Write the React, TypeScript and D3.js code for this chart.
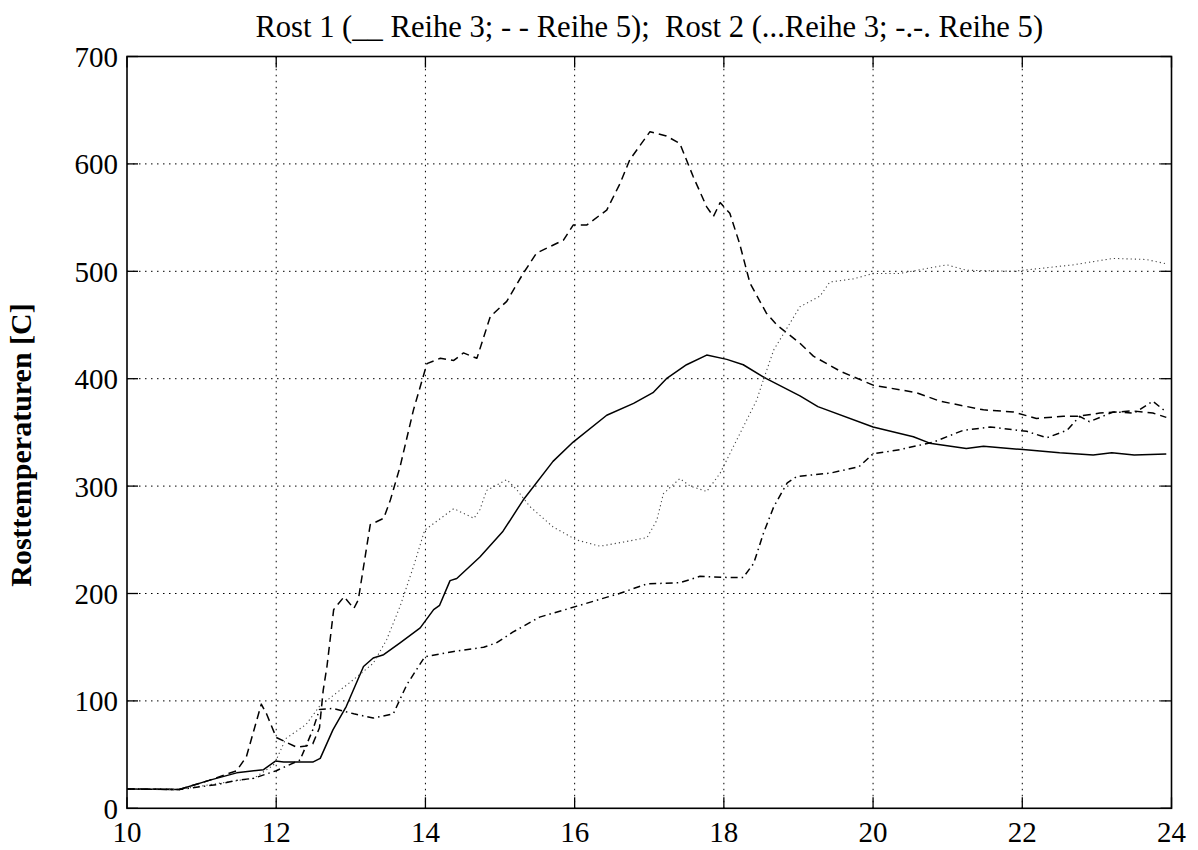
import React from "react";
import * as d3 from "d3";

const W = 1198;
const H = 850;

const titleText = "Rost 1 (__ Reihe 3; - - Reihe 5);  Rost 2 (...Reihe 3; -.-. Reihe 5)";
const yLabelText = "Rosttemperaturen [C]";
const xTicks = [10, 12, 14, 16, 18, 20, 22, 24];
const yTicks = [0, 100, 200, 300, 400, 500, 600, 700];

// Rost 1, Reihe 3 (solid)
const rost1Reihe3: [number, number][] = [
  [10, 18], [10.7, 17.5], [11.1, 26], [11.47, 33], [11.83, 36], [11.99, 44], [12.1, 43], [12.49, 43],
  [12.59, 46.5], [12.76, 73], [12.94, 95], [13.17, 132], [13.3, 140], [13.44, 143], [13.66, 154],
  [13.93, 168], [14.11, 185], [14.19, 189], [14.33, 212], [14.42, 214], [14.73, 234], [15.04, 258],
  [15.31, 287], [15.71, 323], [15.98, 341], [16.43, 366], [16.79, 377], [17.05, 387], [17.23, 400],
  [17.5, 413], [17.77, 422], [18.04, 418], [18.26, 413], [18.57, 400], [19.02, 384], [19.26, 374],
  [20.0, 355], [20.54, 346], [20.76, 340], [21.25, 335], [21.48, 337], [22.01, 334], [22.5, 331],
  [22.95, 329], [23.2, 331], [23.5, 329], [23.93, 330],
];

// Rost 1, Reihe 5 (dashed)
const rost1Reihe5: [number, number][] = [
  [10, 18], [10.7, 17.5], [11.1, 26], [11.47, 35], [11.6, 48], [11.8, 97], [11.87, 88], [12.0, 66],
  [12.27, 57], [12.4, 58], [12.49, 60], [12.58, 75], [12.63, 110], [12.68, 132], [12.77, 185],
  [12.91, 197], [13.04, 186], [13.1, 194], [13.26, 264], [13.44, 270], [13.53, 287], [13.66, 318],
  [13.84, 371], [14.02, 414], [14.2, 419], [14.38, 417], [14.51, 424], [14.69, 419], [14.87, 458],
  [15.09, 472], [15.31, 498], [15.49, 517], [15.67, 523], [15.85, 529], [15.98, 543], [16.16, 543],
  [16.43, 557], [16.61, 582], [16.74, 604], [17.01, 630], [17.23, 626], [17.41, 619], [17.59, 588],
  [17.77, 560], [17.86, 551], [17.95, 564], [18.08, 554], [18.21, 526], [18.35, 489], [18.57, 461],
  [18.71, 450], [19.02, 433], [19.2, 421], [19.56, 407], [20.0, 394], [20.58, 387], [20.9, 379],
  [21.48, 371], [21.88, 369], [22.19, 363], [22.55, 365], [22.75, 365], [23.04, 368], [23.48, 370],
  [23.75, 368], [23.93, 364],
];

// Rost 2, Reihe 3 (dotted)
const rost2Reihe3: [number, number][] = [
  [10, 18], [10.7, 17.5], [11.11, 22], [11.7, 28], [11.96, 40], [12.0, 45], [12.13, 65], [12.4, 78],
  [12.58, 95], [12.8, 107], [13.04, 120], [13.3, 135], [13.48, 157], [13.66, 188], [13.84, 225],
  [13.99, 259], [14.38, 279], [14.65, 270], [14.73, 278], [14.82, 296], [15.09, 306], [15.22, 297],
  [15.4, 281], [15.71, 262], [16.02, 250], [16.34, 244], [16.66, 248], [16.97, 252], [17.1, 268],
  [17.19, 293], [17.41, 307], [17.55, 300], [17.77, 295], [17.95, 312], [18.13, 337], [18.31, 362],
  [18.44, 380], [18.53, 399], [18.67, 427], [19.02, 467], [19.29, 477], [19.42, 490], [19.74, 493],
  [20.0, 498], [20.36, 498], [20.99, 506], [21.25, 501], [21.88, 500], [22.15, 502], [22.68, 506],
  [23.22, 512], [23.66, 511], [23.93, 507],
];

// Rost 2, Reihe 5 (dash-dot)
const rost2Reihe5: [number, number][] = [
  [10, 18], [10.7, 17.5], [11.2, 22], [11.47, 26], [11.7, 28], [12.0, 35], [12.32, 45], [12.49, 73],
  [12.58, 92], [12.76, 93], [13.04, 88], [13.3, 84], [13.57, 88], [13.75, 115], [13.99, 141],
  [14.38, 146], [14.78, 150], [14.95, 154], [15.17, 164], [15.53, 178], [16.02, 188], [16.6, 200],
  [16.97, 209], [17.41, 210], [17.68, 216], [18.04, 215], [18.26, 215], [18.4, 228], [18.53, 256],
  [18.67, 281], [18.85, 303], [18.98, 309], [19.42, 312], [19.81, 318], [20.0, 330], [20.36, 334],
  [20.81, 341], [21.21, 352], [21.57, 355], [22.06, 351], [22.33, 345], [22.6, 352], [22.77, 365],
  [22.9, 360], [23.22, 369], [23.5, 368], [23.75, 379], [23.93, 369],
];

const margin = { left: 127, right: W - 1171.5, top: 56.5, bottom: H - 808.3 };

export default function App() {
  const x = d3.scaleLinear().domain([10, 24]).range([margin.left, W - margin.right]);
  const y = d3.scaleLinear().domain([0, 700]).range([H - margin.bottom, margin.top]);
  const line = d3
    .line<[number, number]>()
    .x((d) => x(d[0]))
    .y((d) => y(d[1]));

  const x0 = x(10);
  const x1 = x(24);
  const y0 = y(0);
  const y1 = y(700);
  const tick = 11;
  const font = "'Liberation Serif', 'Times New Roman', serif";

  const series = [
    { data: rost1Reihe3, dash: "none", width: 1.5, color: "#000" },
    { data: rost1Reihe5, dash: "8,5", width: 1.5, color: "#000" },
    { data: rost2Reihe3, dash: "1.2,3", width: 1.1, color: "#444" },
    { data: rost2Reihe5, dash: "7,4,1.5,4", width: 1.5, color: "#000" },
  ];

  return (
    <svg
      width={W}
      height={H}
      style={{ position: "absolute", left: 0, top: 0, background: "#fff" }}
    >
      <rect x={0} y={0} width={W} height={H} fill="#fff" />
      {/* grid */}
      <g stroke="#000" strokeWidth={1} strokeDasharray="1.5,4.5">
        {xTicks.slice(1, -1).map((t) => (
          <line key={"gx" + t} x1={x(t)} x2={x(t)} y1={y0} y2={y1} />
        ))}
        {yTicks.slice(1, -1).map((t) => (
          <line key={"gy" + t} x1={x0} x2={x1} y1={y(t)} y2={y(t)} />
        ))}
      </g>
      {/* ticks */}
      <g stroke="#000" strokeWidth={1.3}>
        {xTicks.map((t) => (
          <g key={"tx" + t}>
            <line x1={x(t)} x2={x(t)} y1={y0} y2={y0 - tick} />
            <line x1={x(t)} x2={x(t)} y1={y1} y2={y1 + tick} />
          </g>
        ))}
        {yTicks.map((t) => (
          <g key={"ty" + t}>
            <line x1={x0} x2={x0 + tick} y1={y(t)} y2={y(t)} />
            <line x1={x1} x2={x1 - tick} y1={y(t)} y2={y(t)} />
          </g>
        ))}
      </g>
      {/* lines */}
      {series.map((s, i) => (
        <path
          key={i}
          d={line(s.data) || ""}
          fill="none"
          stroke={s.color}
          strokeWidth={s.width}
          strokeDasharray={s.dash}
          strokeLinejoin="round"
        />
      ))}
      {/* frame */}
      <rect x={x0} y={y1} width={x1 - x0} height={y0 - y1} fill="none" stroke="#000" strokeWidth={1.6} />
      {/* tick labels */}
      <g fontFamily={font} fontSize={29} fill="#000">
        {xTicks.map((t) => (
          <text key={"lx" + t} x={x(t)} y={y0 + 34} textAnchor="middle">
            {t}
          </text>
        ))}
        {yTicks.map((t) => (
          <text key={"ly" + t} x={x0 - 9} y={y(t) + 10.5} textAnchor="end">
            {t}
          </text>
        ))}
      </g>
      <text
        x={(x0 + x1) / 2}
        y={37}
        textAnchor="middle"
        fontFamily={font}
        fontSize={30.6}
        fill="#000"
        style={{ whiteSpace: "pre" }}
      >
        {titleText}
      </text>
      <text
        transform={`translate(31, 445) rotate(-90)`}
        textAnchor="middle"
        fontFamily={font}
        fontSize={30}
        fontWeight="bold"
        fill="#000"
      >
        {yLabelText}
      </text>
    </svg>
  );
}
